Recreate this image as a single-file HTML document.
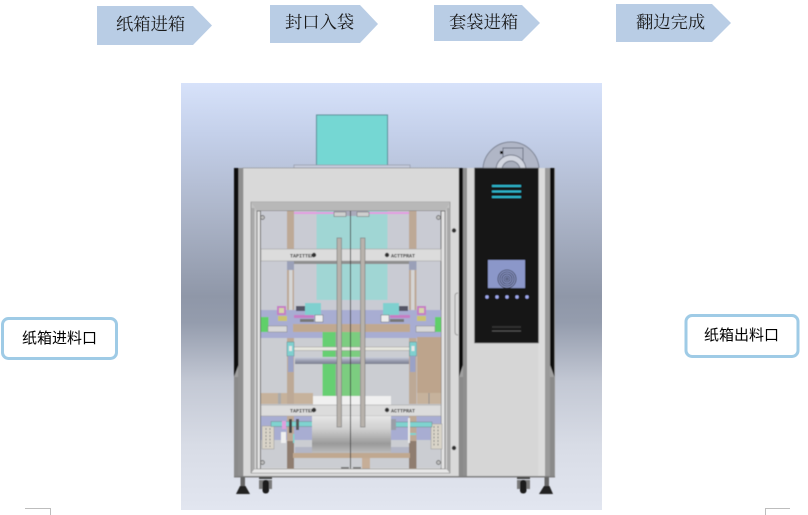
<!DOCTYPE html>
<html><head><meta charset="utf-8"><style>
html,body{margin:0;padding:0;background:#fff;width:808px;height:515px;overflow:hidden}
svg{display:block}
.a{font-family:"Liberation Serif","Noto Serif CJK SC",serif;font-size:17.3px;fill:#1a1a1a}
.b{font-family:"Liberation Sans","WenQuanYi Zen Hei","Noto Sans CJK SC",sans-serif;font-size:15px;fill:#000}
.t{font-family:"Liberation Mono",monospace;font-size:5px;fill:#333;font-weight:bold}
</style></head><body>
<svg width="808" height="515" viewBox="0 0 808 515" xmlns="http://www.w3.org/2000/svg">
<defs>
<linearGradient id="bg" x1="0" y1="0" x2="0" y2="1">
<stop offset="0" stop-color="#d7e2fa"/><stop offset=".12" stop-color="#c4d0ea"/><stop offset=".3" stop-color="#adb6ca"/><stop offset=".5" stop-color="#8f97a8"/><stop offset=".56" stop-color="#949cad"/><stop offset=".7" stop-color="#c3c8d4"/><stop offset=".85" stop-color="#d8dce6"/><stop offset="1" stop-color="#e2e6f0"/>
</linearGradient>
<linearGradient id="roll" x1="0" y1="0" x2="0" y2="1">
<stop offset="0" stop-color="#e6e6e6"/><stop offset=".35" stop-color="#cfcfcf"/><stop offset=".75" stop-color="#9a9a9a"/><stop offset="1" stop-color="#bdbdbd"/>
</linearGradient>
<linearGradient id="rod" x1="0" y1="0" x2="0" y2="1">
<stop offset="0" stop-color="#cdd0dc"/><stop offset=".5" stop-color="#9da1b4"/><stop offset="1" stop-color="#777b8c"/>
</linearGradient>
<filter id="s" x="-2%" y="-2%" width="104%" height="104%"><feGaussianBlur stdDeviation="0.4"/></filter>
</defs>
<rect width="808" height="515" fill="#fff"/>

<!-- top arrows -->
<polygon points="97,6 193,6 212,25.5 193,45 97,45" fill="#b9cde5"/>
<polygon points="270,5 360,5 378,24 360,43 270,43" fill="#b9cde5"/>
<polygon points="434,5 522,5 540,23 522,41 434,41" fill="#b9cde5"/>
<polygon points="616,4 712,4 731,23 712,42 616,42" fill="#b9cde5"/>
<text class="a" x="116" y="30">纸箱进箱</text>
<text class="a" x="285" y="28">封口入袋</text>
<text class="a" x="449" y="28">套袋进箱</text>
<text class="a" x="636" y="28">翻边完成</text>

<!-- side labels -->
<rect x="2.5" y="318.5" width="114" height="40" rx="6" fill="#fff" stroke="#9fcbe6" stroke-width="3"/>
<text class="b" x="22" y="343">纸箱进料口</text>
<rect x="686" y="315.5" width="112" height="41" rx="6" fill="#fff" stroke="#9fcbe6" stroke-width="3"/>
<text class="b" x="704" y="340">纸箱出料口</text>

<!-- corner marks -->
<path d="M25 508.5H50.5V515" fill="none" stroke="#bdbdbd"/>
<path d="M790 508.5H765.5V515" fill="none" stroke="#bdbdbd"/>

<!-- picture background -->
<rect x="181" y="83" width="421" height="427" fill="url(#bg)"/>

<g filter="url(#s)">
<!-- teal box -->
<rect x="316.5" y="115" width="71" height="51" fill="#74d7d3" stroke="#5f8f9a"/>
<rect x="294" y="165" width="116" height="3" fill="#c5cbdc" stroke="#8a8f9d" stroke-width=".6"/>

<!-- disc -->
<circle cx="511" cy="170" r="28" fill="#b0b6c6" stroke="#7d8494"/>
<rect x="503" y="148" width="20" height="22" fill="#b0b6c6" stroke="#6e7484"/>
<circle cx="511" cy="170" r="15" fill="#d2d6e0" stroke="#777d8c"/>
<circle cx="511" cy="170" r="9" fill="#a8aebc" stroke="#777d8c"/>
<rect x="500" y="151" width="3" height="3" fill="#111"/>

<!-- main body -->
<rect x="234" y="168" width="321" height="309" fill="#a0a0a0"/>
<rect x="243" y="168" width="216" height="309" fill="#d9d9d9" stroke="#8a8a8a" stroke-width=".6"/>
<rect x="238" y="168" width="5" height="309" fill="#8f8f8f"/>
<polygon points="234,168 238.5,168 238.5,365 234,377" fill="#111"/>
<rect x="234" y="377" width="4" height="100" fill="#8a8a8a"/>
<polygon points="459,168 463,168 463,365 459,377" fill="#111"/>
<rect x="459" y="377" width="4" height="100" fill="#8a8a8a"/>
<rect x="463" y="168" width="4" height="309" fill="#8f8f8f"/>
<rect x="467" y="168" width="71" height="309" fill="#d6d6d6"/>
<rect x="538" y="168" width="7" height="309" fill="#dcdcdc"/>
<rect x="545" y="168" width="5" height="309" fill="#9a9a9a"/>
<polygon points="550,168 554.5,168 554.5,377 550,365" fill="#111"/>
<rect x="550" y="377" width="4.5" height="100" fill="#8a8a8a"/>

<!-- control panel -->
<rect x="474.5" y="168" width="64" height="175" fill="#131313" stroke="#666" stroke-width=".5"/>
<rect x="492" y="185" width="29" height="2" fill="#2fb6cc"/>
<rect x="492" y="190.5" width="29" height="2" fill="#2fb6cc"/>
<rect x="492" y="196" width="29" height="2" fill="#2fb6cc"/>
<rect x="488" y="260" width="37" height="28" fill="#8b97c9"/>
<g fill="none" stroke="#33384a" stroke-width=".8">
<circle cx="507" cy="279" r="9"/><circle cx="507" cy="279" r="7"/><circle cx="507" cy="279" r="5"/><circle cx="507" cy="279" r="3"/><circle cx="507" cy="279" r="1.2"/>
</g>
<g fill="#a0aaf0"><circle cx="487" cy="297" r="1.7"/><circle cx="497" cy="297" r="1.7"/><circle cx="507" cy="297" r="1.7"/><circle cx="517" cy="297" r="1.7"/><circle cx="527" cy="297" r="1.7"/></g>
<rect x="492" y="330.5" width="29" height="1" fill="#555"/>
<rect x="492" y="326" width="29" height="2" fill="#333"/>
<path d="M458 293q-3 0-3 3v36q0 3 3 3" fill="none" stroke="#9a9a9a"/>
<circle cx="454" cy="230.5" r="2.2" fill="#333"/>
<circle cx="454" cy="448" r="2.2" fill="#333"/>

<!-- door frame -->
<rect x="251" y="202" width="199" height="271" fill="#c2c2c2" stroke="#777" stroke-width=".6"/>
<polygon points="251,202 450,202 445,211 257,211" fill="#b8b8b8"/>
<rect x="251.500" y="208" width="3" height="265" fill="#a8a8a8"/>
<rect x="447" y="208" width="3" height="265" fill="#a8a8a8"/>
<rect x="254.500" y="211" width="2.500" height="261" fill="#cfcfcf"/>
<rect x="444.500" y="211" width="2.500" height="261" fill="#cfcfcf"/>

<!-- window -->
<rect x="257" y="211" width="188" height="258" fill="#e2e2e2" stroke="#555" stroke-width=".7"/>
<rect x="261" y="211" width="180" height="257" fill="#c9cbd3"/>
<line x1="260.5" y1="211" x2="260.5" y2="469" stroke="#666"/>
<line x1="441" y1="211" x2="441" y2="469" stroke="#666"/>

<!-- teal translucent -->
<rect x="316.5" y="211" width="71" height="89" fill="#a0d6d4"/>
<!-- pink strip -->
<rect x="293" y="212" width="117" height="2" fill="#e39ae0"/>
<rect x="334" y="211" width="34" height="5" fill="#aab" />
<rect x="334" y="212" width="12" height="4.5" fill="#cfcfcf" stroke="#666" stroke-width=".5"/>
<rect x="357" y="212" width="12" height="4.5" fill="#cfcfcf" stroke="#666" stroke-width=".5"/>

<!-- posts -->
<rect x="287" y="211" width="7" height="258" fill="#bda996"/>
<rect x="409" y="211" width="7.5" height="258" fill="#bda996"/>
<rect x="287" y="261" width="7" height="9" fill="#9aa0b8"/>
<rect x="409" y="261" width="7.5" height="9" fill="#9aa0b8"/>
<rect x="289" y="270" width="3.5" height="72" fill="#d5d5d5"/>
<rect x="411" y="270" width="3.5" height="72" fill="#d5d5d5"/>

<!-- top bar -->
<rect x="261" y="249" width="180" height="12" fill="#dcdcdc" stroke="#9a9a9a" stroke-width=".5"/>
<rect x="294" y="261" width="115" height="3" fill="#8f8f8f"/>
<text class="t" x="290" y="257.500">TAPITTER</text>
<circle cx="314" cy="255" r="2.2" fill="#333"/>
<circle cx="387" cy="255" r="2.2" fill="#333"/>
<text class="t" x="391" y="257.500">ACTTPRAT</text>

<!-- purple band -->
<rect x="261" y="310" width="180" height="28" fill="#a8add2"/>
<rect x="261" y="338" width="180" height="130" fill="#cbcdd2"/>

<!-- green -->
<rect x="322.500" y="332" width="13" height="64" fill="#66cf72"/>
<rect x="341" y="332" width="19" height="64" fill="#7ccd80"/>
<rect x="335.500" y="332" width="5.500" height="64" fill="#9aa89c"/>

<!-- tan bar -->
<rect x="293" y="324" width="117" height="8" fill="#c0a890"/>
<rect x="417" y="337" width="24" height="56" fill="#bda48c"/>
<rect x="261" y="393" width="52" height="11" fill="#c6b29c"/>
<rect x="417" y="393" width="24" height="11" fill="#c6b29c"/>
<line x1="429" y1="393" x2="429" y2="404" stroke="#8f8f8f"/>
<rect x="278" y="393" width="3" height="11" fill="#aaa"/>
<rect x="287" y="338" width="7" height="66" fill="#bda996"/>
<rect x="409" y="338" width="7.500" height="66" fill="#bda996"/>

<!-- side green blocks and cylinders -->
<rect x="261" y="317" width="7.500" height="15" fill="#5fd069"/>
<rect x="435" y="317" width="6" height="15" fill="#5fd069"/>
<rect x="268" y="326" width="19" height="6" fill="#d8d8d8" stroke="#777" stroke-width=".4"/>
<rect x="416" y="326" width="19" height="6" fill="#d8d8d8" stroke="#777" stroke-width=".4"/>

<!-- left mechanism -->
<rect x="277" y="306" width="9" height="9" fill="#c67dc4"/>
<rect x="279" y="308" width="5" height="5" fill="#d6d6a8"/>
<rect x="278" y="316" width="9" height="5" fill="#ccc46f"/>
<rect x="294" y="315" width="20" height="3" fill="#c67dc4"/>
<rect x="300" y="319" width="14" height="3" fill="#777"/>
<rect x="305" y="303" width="16" height="12" fill="#7fd0cf"/>
<rect x="315" y="315" width="8" height="7" fill="#ececec" stroke="#555" stroke-width=".4"/>
<rect x="296" y="306" width="9" height="5" fill="#556"/>
<!-- right mechanism -->
<rect x="417" y="306" width="9" height="9" fill="#c67dc4"/>
<rect x="419" y="308" width="5" height="5" fill="#d6d6a8"/>
<rect x="417" y="316" width="9" height="5" fill="#ccc46f"/>
<rect x="390" y="315" width="20" height="3" fill="#c67dc4"/>
<rect x="390" y="319" width="14" height="3" fill="#777"/>
<rect x="383" y="303" width="16" height="12" fill="#7fd0cf"/>
<rect x="381" y="315" width="8" height="7" fill="#ececec" stroke="#555" stroke-width=".4"/>
<rect x="399" y="306" width="9" height="5" fill="#556"/>

<!-- rods -->
<rect x="293" y="347" width="117" height="3.500" fill="#e8e8e0" stroke="#888" stroke-width=".4"/>
<rect x="295" y="357" width="114" height="7" fill="url(#rod)"/>
<rect x="287" y="342" width="7" height="14" fill="#7fd0cf" stroke="#5a8a90" stroke-width=".5"/>
<rect x="289" y="346" width="3" height="5" fill="#e8e8e8"/>
<rect x="409.500" y="342" width="7" height="14" fill="#7fd0cf" stroke="#5a8a90" stroke-width=".5"/>
<rect x="411.500" y="346" width="3" height="5" fill="#e8e8e8"/>
<rect x="288" y="356" width="5.500" height="16" fill="#9aa2c6"/>
<rect x="410" y="356" width="5.500" height="16" fill="#9aa2c6"/>

<!-- white box and lower bar -->
<rect x="313" y="396" width="78" height="9" fill="#f0f0f0"/>
<rect x="261" y="416" width="180" height="24" fill="#a8add2"/>
<rect x="261" y="405" width="180" height="11" fill="#dcdcdc" stroke="#9a9a9a" stroke-width=".5"/>
<text class="t" x="290" y="412.500">TAPITTER</text>
<circle cx="314" cy="410" r="2.200" fill="#333"/>
<circle cx="387" cy="410" r="2.200" fill="#333"/>
<text class="t" x="391" y="412.500">ACTTPRAT</text>

<!-- lower posts -->
<rect x="287" y="416" width="7" height="25" fill="#bda996"/>
<rect x="409" y="416" width="7.500" height="25" fill="#bda996"/>
<rect x="287" y="441" width="7" height="27.500" fill="#8f7d70"/>
<rect x="409" y="441" width="7.500" height="27.500" fill="#8f7d70"/>
<rect x="262" y="426" width="12" height="23" fill="#d9d4c8" stroke="#999" stroke-width=".5"/>
<g fill="none" stroke="#888" stroke-dasharray="2 1.500"><line x1="266" y1="428" x2="266" y2="447"/><line x1="270" y1="428" x2="270" y2="447"/></g>
<rect x="431" y="424" width="11" height="25" fill="#d9d4c8" stroke="#999" stroke-width=".5"/>
<g fill="none" stroke="#888" stroke-dasharray="2 1.500"><line x1="434" y1="426" x2="434" y2="447"/><line x1="438" y1="426" x2="438" y2="447"/></g>

<!-- lower shafts -->
<rect x="271" y="421.500" width="42" height="5" fill="#7fd3d0" stroke="#677" stroke-width=".4"/>
<rect x="391" y="422" width="41" height="5" fill="#7fd3d0" stroke="#677" stroke-width=".4"/>
<rect x="282" y="421" width="4" height="8" fill="#df9fdd"/>
<rect x="281" y="432" width="5" height="11" fill="#efefef"/>
<rect x="289" y="419" width="3" height="14" fill="#444"/>
<rect x="296" y="419" width="3" height="11" fill="#555"/>
<rect x="293" y="434" width="1.500" height="9" fill="#7fd3d0"/>
<rect x="408" y="418" width="2" height="25" fill="#e8e8e8"/>
<rect x="410" y="433" width="6" height="2" fill="#7fd3d0"/>
<rect x="391" y="419" width="5" height="11" fill="#9a9ea8"/>

<!-- roll -->
<rect x="295" y="447" width="114" height="6" fill="#b3b6c6"/>
<rect x="312" y="416" width="79" height="37" fill="url(#roll)"/>
<rect x="293" y="453" width="117" height="5" fill="#c0a890"/>
<rect x="362" y="458" width="8" height="10.500" fill="#c6ae98"/>
<rect x="341" y="467" width="8" height="2" fill="#777"/>
<rect x="353" y="467" width="8" height="2" fill="#777"/>

<!-- handles & center line -->
<rect x="337" y="238" width="4.500" height="189" fill="#b8b2ac" stroke="#777" stroke-width=".6"/>
<rect x="360.500" y="238" width="4.500" height="189" fill="#b8b2ac" stroke="#777" stroke-width=".6"/>
<line x1="350.500" y1="211" x2="350.500" y2="473" stroke="#444" stroke-width="1"/>

<!-- screws -->
<g fill="#bbb" stroke="#555" stroke-width=".7">
<circle cx="262.500" cy="217.500" r="2"/><circle cx="438.500" cy="217.500" r="2"/><circle cx="262.500" cy="462.500" r="2"/><circle cx="438.500" cy="462.500" r="2"/>
</g>
<polygon points="251,473 450,473 447,469 254,469" fill="#e8e8e8" stroke="#8a8a8a" stroke-width=".4"/>
<rect x="234" y="476" width="321" height="1.500" fill="#7d7d7d"/>

<!-- feet and casters -->
<rect x="240.500" y="477" width="4.500" height="11" fill="#666"/>
<polygon points="240,486 245.500,486 250,494 236,494" fill="#222"/>
<rect x="259" y="477" width="13" height="2" fill="#444"/>
<rect x="259" y="480" width="13" height="9" fill="#7a7a7a"/>
<rect x="262.500" y="480" width="6.500" height="13.500" rx="3" fill="#1a1a1a"/>
<rect x="544.500" y="477" width="4.500" height="11" fill="#666"/>
<polygon points="544,486 549.500,486 553,494 539,494" fill="#222"/>
<rect x="517" y="477" width="13" height="2" fill="#444"/>
<rect x="517" y="480" width="13" height="9" fill="#7a7a7a"/>
<rect x="520" y="480" width="6.500" height="13.500" rx="3" fill="#1a1a1a"/>
</g>
</svg>
</body></html>
